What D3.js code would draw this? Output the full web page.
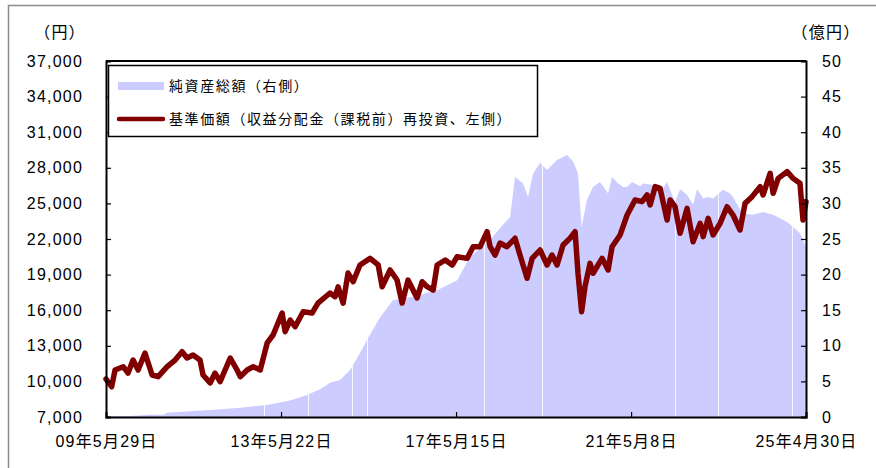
<!DOCTYPE html>
<html>
<head>
<meta charset="utf-8">
<script src="https://cdn.jsdelivr.net/npm/d3@7"></script>
<style>
    body { margin: 0; background: #fff; }
    svg text { font-family: "Liberation Sans", Arial, "Noto Sans CJK JP", sans-serif; fill: #000; }
    .tickText { font-size: 16px; letter-spacing: 1.2px; }
    .legendText { font-size: 14px; letter-spacing: 1.6px; }
</style>
</head>
<body>
<div id="chart"></div>
<script>

// 基準価額 (left axis, yen)
var priceDates = ["2009-05-29", "2009-07-15", "2009-08-12", "2009-10-19", "2009-11-28", "2010-01-09", "2010-02-20",
    "2010-04-18", "2010-06-16", "2010-08-05", "2010-10-19", "2010-12-24", "2011-02-20", "2011-04-02", "2011-05-22",
    "2011-07-19", "2011-08-13", "2011-10-11", "2011-11-21", "2012-01-02", "2012-03-26", "2012-05-22", "2012-06-17",
    "2012-08-14", "2012-10-03", "2012-11-30", "2013-01-27", "2013-03-17", "2013-05-31", "2013-06-25", "2013-08-06",
    "2013-09-16", "2013-11-22", "2014-02-04", "2014-03-25", "2014-07-03", "2014-08-14", "2014-09-08", "2014-10-20",
    "2014-11-30", "2015-01-11", "2015-03-09", "2015-06-01", "2015-08-07", "2015-09-09", "2015-11-14", "2016-01-11",
    "2016-02-22", "2016-04-11", "2016-06-25", "2016-08-06", "2016-09-17", "2016-11-06", "2016-12-09", "2017-02-14",
    "2017-04-13", "2017-05-24", "2017-08-15", "2017-10-04", "2017-12-01", "2018-01-28", "2018-02-22", "2018-04-04",
    "2018-05-15", "2018-07-12", "2018-09-17", "2018-10-28", "2018-12-26", "2019-02-06", "2019-04-13", "2019-06-10",
    "2019-07-21", "2019-09-01", "2019-10-21", "2019-12-18", "2020-01-29", "2020-02-22", "2020-03-23", "2020-04-20",
    "2020-06-01", "2020-06-26", "2020-09-09", "2020-10-29", "2020-12-01", "2021-02-06", "2021-04-05", "2021-06-10",
    "2021-08-07", "2021-09-18", "2021-10-13", "2021-11-24", "2022-01-04", "2022-03-03", "2022-03-28", "2022-05-08",
    "2022-06-19", "2022-08-16", "2022-10-05", "2022-12-03", "2022-12-28", "2023-02-07", "2023-03-20", "2023-05-17",
    "2023-07-14", "2023-09-02", "2023-10-30", "2023-12-11", "2024-02-07", "2024-04-14", "2024-05-09", "2024-07-06",
    "2024-07-31", "2024-09-11", "2024-11-24", "2025-01-13", "2025-03-11", "2025-04-05", "2025-04-30"];
var priceValues = [10200, 9550, 10960, 11240, 10700, 11800, 10960,
    12390, 10540, 10400, 11240, 11800, 12500, 11970, 12220,
    11800, 10540, 9870, 10700, 9975, 11970, 10960, 10400,
    10960, 11240, 10960, 13240, 13910, 15760, 14190, 15170,
    14610, 15870, 15760, 16600, 17450, 17140, 17960, 16600,
    19130, 18400, 19810, 20370, 19810, 17980, 19390, 18540,
    16600, 18540, 17030, 18400, 17980, 17700, 19810, 20230,
    19810, 20510, 20370, 21350, 21350, 22620, 21350, 20650,
    21660, 21350, 22060, 20650, 18690, 20370, 21070, 19810,
    20650, 19810, 21500, 22060, 22620, 19110, 15870, 17980,
    19950, 19110, 20370, 19390, 21350, 22340, 24020, 25290,
    25150, 25710, 24870, 26410, 26270, 23600, 25290, 24720,
    22480, 24580, 21770, 23320, 22200, 23740, 22340, 23320,
    24720, 24020, 22760, 25010, 25570, 26410, 25710, 27540,
    25850, 27110, 27670, 27110, 26690, 23600, 25150];

// 純資産総額 (right axis, 億円)
var assetDates = ["2009-05-29", "2009-12-15", "2010-05-30", "2010-09-20", "2010-10-19", "2011-04-26", "2011-10-11",
    "2012-06-17", "2013-01-27", "2013-08-06", "2013-12-24", "2014-04-11", "2014-07-03", "2014-09-24", "2014-12-16",
    "2015-02-21", "2015-05-06", "2015-08-23", "2015-12-08", "2016-05-22", "2016-12-09", "2017-05-24", "2017-09-09",
    "2018-02-22", "2018-05-15", "2018-08-07", "2018-09-17", "2018-11-23", "2019-01-03", "2019-02-14", "2019-04-13",
    "2019-06-10", "2019-09-01", "2019-11-23", "2020-01-12", "2020-02-22", "2020-03-23", "2020-05-07", "2020-06-26",
    "2020-08-23", "2020-10-29", "2020-12-01", "2021-01-20", "2021-03-03", "2021-04-05", "2021-05-16", "2021-07-22",
    "2021-08-15", "2021-11-07", "2022-01-04", "2022-03-03", "2022-05-08", "2022-06-19", "2022-08-16", "2022-10-05",
    "2022-11-07", "2022-12-28", "2023-01-29", "2023-03-20", "2023-06-11", "2023-08-08", "2023-09-02", "2023-11-16",
    "2024-02-15", "2024-05-09", "2024-07-31", "2024-11-24", "2025-01-13", "2025-03-11", "2025-04-30"];
var assetValues = [0.1, 0.15, 0.3, 0.3, 0.6, 0.8, 1.0,
    1.3, 1.7, 2.3, 3.1, 3.9, 4.8, 5.2, 6.6,
    8.5, 10.8, 14.0, 16.4, 16.9, 17.8, 19.2, 22.5,
    24.9, 26.5, 28.1, 33.7, 32.8, 30.9, 34.2, 35.7,
    34.7, 36.1, 36.8, 35.9, 34.2, 26.7, 30.5, 32.3,
    33.0, 31.4, 33.7, 32.8, 32.3, 32.3, 33.0, 32.4,
    32.8, 32.6, 31.4, 33.0, 30.2, 32.0, 31.2, 29.8,
    32.0, 30.7, 30.9, 30.7, 31.9, 31.4, 30.9, 28.6,
    28.4, 28.8, 28.4, 27.4, 26.7, 25.8, 23.9];

// holidays where the asset series has no value (thin white gaps)
var gapDates = ["2013-01-01", "2014-01-01", "2015-01-01", "2015-05-04", "2018-01-01", "2019-04-30",
    "2022-05-04", "2023-05-03", "2025-01-01"];

var leftTicks = [7000, 10000, 13000, 16000, 19000, 22000, 25000, 28000, 31000, 34000, 37000];
var rightTicks = [0, 5, 10, 15, 20, 25, 30, 35, 40, 45, 50];
var xTickDates = ["2009-05-29", "2013-05-22", "2017-05-15", "2021-05-08", "2025-04-30"];
var xTickLabels = ["09年5月29日", "13年5月22日", "17年5月15日", "21年5月8日", "25年4月30日"];

var legendLabels = ["純資産総額（右側）", "基準価額（収益分配金（課税前）再投資、左側）"];

var parse = d3.timeParse("%Y-%m-%d");

var width = 876, height = 468;
var plot = { left: 106, right: 806, top: 61, bottom: 417 };

var svg = d3.select("#chart").append("svg")
    .attr("width", width)
    .attr("height", height);

// outer frame (only top and left edges show in the window)
svg.append("rect")
    .attr("x", 8.5).attr("y", 5.5)
    .attr("width", 900).attr("height", 500)
    .attr("fill", "none")
    .attr("stroke", "#8c8c8c")
    .attr("stroke-width", 1.5);

var xScale = d3.scaleTime()
    .domain([parse(xTickDates[0]), parse(xTickDates[xTickDates.length - 1])])
    .range([plot.left, plot.right]);
var yLeft = d3.scaleLinear().domain([7000, 37000]).range([plot.bottom, plot.top]);
var yRight = d3.scaleLinear().domain([0, 50]).range([plot.bottom, plot.top]);

var assetData = assetDates.map(function (d, i) { return { date: parse(d), value: assetValues[i] }; });
var priceData = priceDates.map(function (d, i) { return { date: parse(d), value: priceValues[i] }; });

//net assets area
var area = d3.area()
    .x(function (d) { return xScale(d.date); })
    .y0(yRight(0))
    .y1(function (d) { return yRight(d.value); });

svg.append("clipPath").attr("id", "areaClip")
    .append("path").attr("d", area(assetData));

svg.append("path")
    .datum(assetData)
    .attr("d", area)
    .attr("fill", "#ccccff");

svg.append("g")
    .attr("clip-path", "url(#areaClip)")
    .selectAll("line")
    .data(gapDates)
    .enter()
    .append("line")
    .attr("x1", function (d) { return Math.round(xScale(parse(d))) + 0.5; })
    .attr("x2", function (d) { return Math.round(xScale(parse(d))) + 0.5; })
    .attr("y1", plot.top)
    .attr("y2", plot.bottom)
    .attr("stroke", "#ffffff")
    .attr("stroke-opacity", 0.85)
    .attr("stroke-width", 1);

//price line
var line = d3.line()
    .x(function (d) { return xScale(d.date); })
    .y(function (d) { return yLeft(d.value); });

svg.append("path")
    .datum(priceData)
    .attr("d", line)
    .attr("fill", "none")
    .attr("stroke", "#800000")
    .attr("stroke-width", 5.5)
    .attr("stroke-linejoin", "round")
    .attr("stroke-linecap", "round");

// plot box top edge
svg.append("line")
    .attr("x1", plot.left).attr("x2", plot.right)
    .attr("y1", plot.top).attr("y2", plot.top)
    .attr("stroke", "#000").attr("stroke-width", 2);

//axes, ticks point inward
var leftAxis = svg.append("g")
    .attr("transform", "translate(" + plot.left + ",0)")
    .call(d3.axisLeft(yLeft).tickValues(leftTicks).tickSize(-5).tickPadding(23)
        .tickFormat(d3.format(",")));

var rightAxis = svg.append("g")
    .attr("transform", "translate(" + plot.right + ",0)")
    .call(d3.axisRight(yRight).tickValues(rightTicks).tickSize(-5).tickPadding(16));

var bottomAxis = svg.append("g")
    .attr("transform", "translate(0," + plot.bottom + ")")
    .call(d3.axisBottom(xScale).tickValues(xTickDates.map(parse)).tickSize(-5).tickPadding(19)
        .tickFormat(function (d, i) { return xTickLabels[i]; }));

[leftAxis, rightAxis, bottomAxis].forEach(function (g) {
    g.attr("font-family", null).attr("font-size", null);
    g.select(".domain").attr("stroke", "#000").attr("stroke-width", 2);
    g.selectAll(".tick line").attr("stroke", "#000").attr("stroke-width", 1.2);
    g.selectAll(".tick text").attr("class", "tickText");
});

// unit labels
svg.append("text")
    .attr("class", "tickText")
    .attr("x", 60).attr("y", 38)
    .attr("text-anchor", "middle")
    .text("（円）");
svg.append("text")
    .attr("class", "tickText")
    .attr("x", 826).attr("y", 38)
    .attr("text-anchor", "middle")
    .text("（億円）");

//legend
var legend = svg.append("g");
legend.append("rect")
    .attr("x", 108.5).attr("y", 65.5)
    .attr("width", 429).attr("height", 71)
    .attr("fill", "#fff")
    .attr("stroke", "#000")
    .attr("stroke-width", 1.5);
legend.append("rect")
    .attr("x", 118).attr("y", 82)
    .attr("width", 46).attr("height", 8)
    .attr("fill", "#ccccff");
legend.append("line")
    .attr("x1", 119).attr("x2", 163)
    .attr("y1", 119).attr("y2", 119)
    .attr("stroke", "#800000")
    .attr("stroke-width", 4.5)
    .attr("stroke-linecap", "round");
legend.selectAll(".legendText")
    .data(legendLabels)
    .enter()
    .append("text")
    .attr("class", "legendText")
    .attr("x", 169)
    .attr("y", function (d, i) { return 91 + i * 33; })
    .text(function (d) { return d; });

</script>
</body>
</html>
